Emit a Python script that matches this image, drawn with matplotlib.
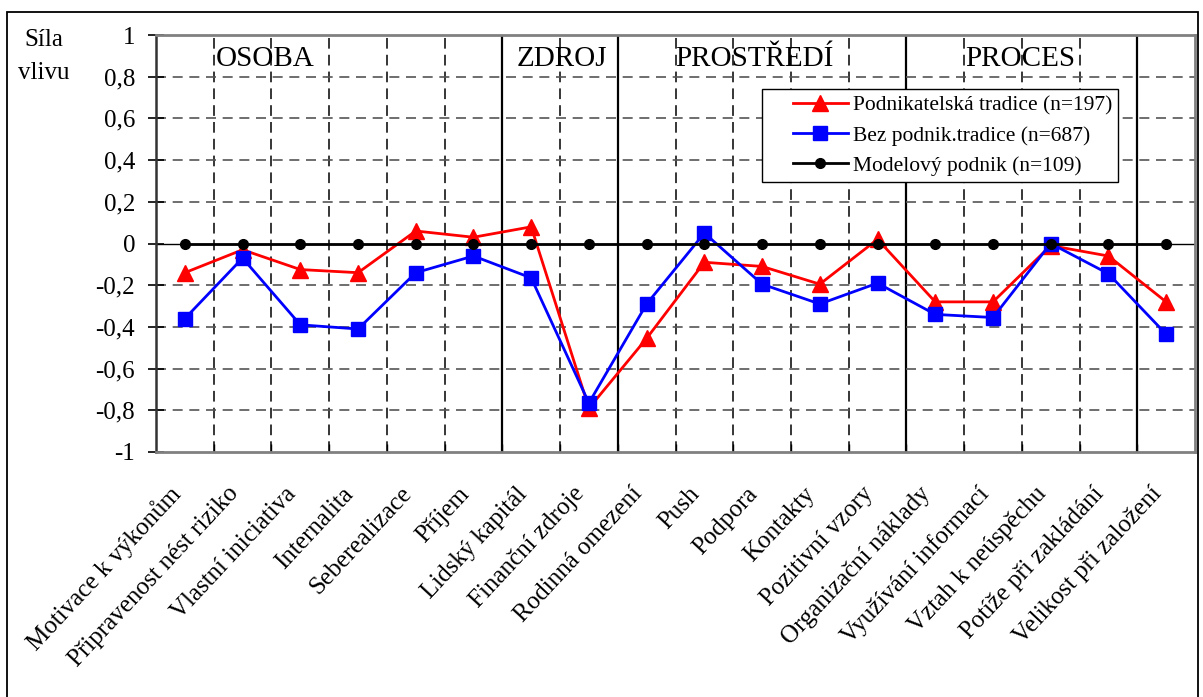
import matplotlib
matplotlib.use("Agg")
import matplotlib.pyplot as plt
from matplotlib.patches import Rectangle
from matplotlib.legend_handler import HandlerLine2D
from matplotlib.transforms import ScaledTranslation
import numpy as np

categories = [
    "Motivace k výkonům", "Připravenost nést riziko", "Vlastní iniciativa",
    "Internalita", "Seberealizace", "Příjem", "Lidský kapitál",
    "Finanční zdroje", "Rodinná omezení", "Push", "Podpora", "Kontakty",
    "Pozitivní vzory", "Organizační náklady", "Využívání informací",
    "Vztah k neúspěchu", "Potíže při zakládání", "Velikost při založení",
]
tradice = [-0.14, -0.03, -0.125, -0.14, 0.06, 0.03, 0.08, -0.79, -0.455,
           -0.09, -0.11, -0.195, 0.02, -0.28, -0.28, -0.01, -0.06, -0.28]
bez_tradice = [-0.36, -0.07, -0.39, -0.41, -0.14, -0.06, -0.165, -0.765, -0.29,
               0.05, -0.195, -0.29, -0.19, -0.34, -0.355, 0.0, -0.145, -0.435]
modelovy = [0.0] * 18

series_labels = ["Podnikatelská tradice (n=197)", "Bez podnik.tradice (n=687)",
                 "Modelový podnik (n=109)"]
y_ticks = [-1, -0.8, -0.6, -0.4, -0.2, 0, 0.2, 0.4, 0.6, 0.8, 1]
y_tick_labels = ["-1", "-0,8", "-0,6", "-0,4", "-0,2", "0", "0,2", "0,4", "0,6", "0,8", "1"]
sections = ["OSOBA", "ZDROJ", "PROSTŘEDÍ", "PROCES"]

plt.rcParams["font.family"] = ["Liberation Serif", "DejaVu Serif"]

W, H = 1203, 697
fig = plt.figure(figsize=(W / 100, H / 100), dpi=100)
ax = fig.add_axes([156 / W, 1 - 452 / H, (1195 - 156) / W, (452 - 35) / H])

x = np.arange(len(categories))
ax.set_xlim(-0.5, len(categories) - 0.5)
ax.set_ylim(-1, 1)

# section separators (solid) and category gridlines (dashed)
separators = [5.5, 7.5, 12.5, 16.5]
boundaries = np.arange(0.5, len(categories) - 0.5, 1.0)
for b in boundaries:
    if b in separators:
        ax.axvline(b, color="black", lw=1.6, zorder=1)
    else:
        ax.axvline(b, color="black", lw=1.1, ls=(0, (7, 4)), zorder=1)
for t in y_ticks[1:-1]:
    if t != 0:
        ax.axhline(t, color="#555555", lw=1.2, ls=(0, (6, 4)), zorder=1)
ax.axhline(0, color="black", lw=1.0, zorder=2)

ax.plot(x, tradice, color="red", lw=2.0, marker="^", ms=11, label=series_labels[0], zorder=3)
ax.plot(x, bez_tradice, color="blue", lw=2.0, marker="s", ms=10.5, label=series_labels[1], zorder=4)
ax.plot(x, modelovy, color="black", lw=2.0, marker="o", ms=7, label=series_labels[2], zorder=5)

ax.set_yticks(y_ticks)
ax.set_yticklabels(y_tick_labels, fontsize=18)
ax.tick_params(axis="y", direction="inout", length=12, width=1.2, color="black", pad=9)

ax.set_xticks(x)
ax.set_xticklabels(categories, rotation=47, ha="right", va="center",
                   rotation_mode="anchor", fontsize=18)
ax.tick_params(axis="x", which="major", length=0, pad=29)
ax.set_xticks(boundaries, minor=True)
ax.tick_params(axis="x", which="minor", direction="in", length=6, width=1.0, color="black")
shift = ScaledTranslation(-8 / 100, 2 / 100, fig.dpi_scale_trans)
for lbl in ax.get_xticklabels():
    lbl.set_transform(lbl.get_transform() + shift)

for side in ("top", "right", "bottom"):
    ax.spines[side].set_color("#808080")
    ax.spines[side].set_linewidth(2)
ax.spines["left"].set_color("#333333")
ax.spines["left"].set_linewidth(1.8)

# section headings
section_x = [1.39, 6.53, 9.86, 14.47]
for name, sx in zip(sections, section_x):
    ax.text(sx, 0.885, name, ha="center", va="center", fontsize=21, zorder=6)


class LeadInLineHandler(HandlerLine2D):
    """Legend line that starts a little to the right of the frame edge."""
    lead = 17.5

    def get_xdata(self, legend, xdescent, ydescent, width, height, fontsize):
        xdata = np.array([-xdescent + self.lead, -xdescent + width], float)
        return xdata, np.array([xdata.mean()])


handler = LeadInLineHandler(numpoints=1)
lines = ax.get_lines()[-3:]
leg = ax.legend(handles=lines, loc="upper left", bbox_to_anchor=(762 / W, 1 - 89 / H),
                bbox_transform=fig.transFigure, borderaxespad=0,
                fontsize=15.5, frameon=True, fancybox=False, framealpha=1,
                edgecolor="black", handlelength=3.68, borderpad=0.3,
                labelspacing=0.47, handletextpad=0.23,
                handler_map={l: handler for l in lines})
leg.get_frame().set_linewidth(1.0)
leg.set_zorder(10)

fig.text(44 / W, 1 - 40 / H, "Síla", ha="center", va="center", fontsize=18)
fig.text(44 / W, 1 - 73 / H, "vlivu", ha="center", va="center", fontsize=18)

fig.patches.append(Rectangle((7 / W, -0.02), (1198 - 7) / W, (697 - 12) / H + 0.02,
                             transform=fig.transFigure, fill=False,
                             edgecolor="black", lw=1.3))

fig.savefig("out.png", dpi=100)
